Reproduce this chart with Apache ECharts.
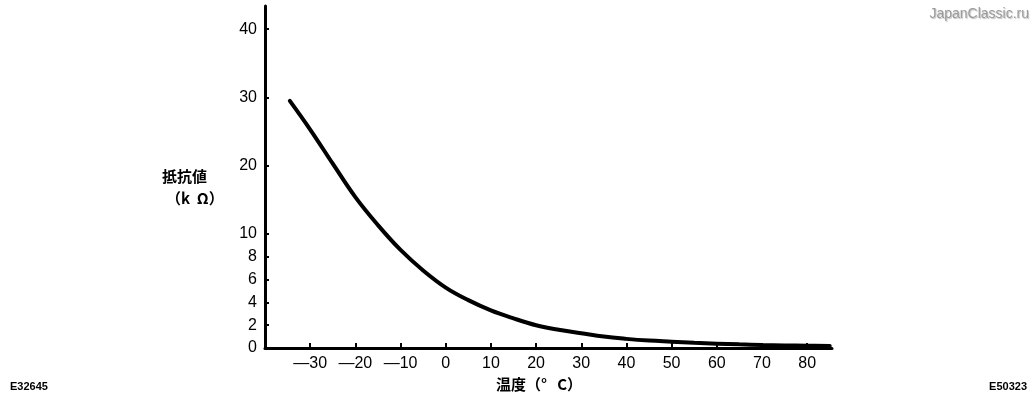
<!DOCTYPE html>
<html>
<head>
<meta charset="utf-8">
<script src="https://cdn.jsdelivr.net/npm/echarts@6/dist/echarts.min.js"></script>
<style>
  html, body { margin: 0; padding: 0; background: #fff; }
  #chart { width: 1033px; height: 397px; }
</style>
</head>
<body>
<div id="chart"></div>
<script>
// 温度 (°C) と抵抗値 (kΩ)
const temps = [-34.5, -30, -25, -20, -15, -10, -5, 0, 5, 10, 15, 20, 25, 30, 35, 40, 45, 50, 55, 60, 65, 70, 75, 80, 85];
const resist = [29.5, 25.3, 20.3, 15.4, 11.3, 8.6, 6.8, 5.3, 4.2, 3.3, 2.6, 2.0, 1.6, 1.3, 1.0, 0.8, 0.65, 0.55, 0.45, 0.38, 0.32, 0.27, 0.23, 0.2, 0.17];
const xTicks = [-30, -20, -10, 0, 10, 20, 30, 40, 50, 60, 70, 80];
const yTicks = [0, 2, 4, 6, 8, 10, 20, 30, 40];

// 縦軸は 0〜10 と 10〜40 で目盛り間隔が違う（上側を圧縮）
const SPLIT = 10;
const RATIO = 0.599;
function toAxis(v) {
  return v <= SPLIT ? v : SPLIT + (v - SPLIT) * RATIO;
}
function fromAxis(t) {
  return t <= SPLIT ? t : SPLIT + (t - SPLIT) / RATIO;
}

const lineData = temps.map((t, i) => [t, toAxis(resist[i])]);
const yTickPos = yTicks.map(toAxis);

const chart = echarts.init(document.getElementById('chart'));
const labelFont = 'Liberation Sans, Arial, sans-serif';
const cjkFont = '"Noto Sans CJK JP", sans-serif';

chart.setOption({
  animation: false,
  grid: { left: 265, right: 201, top: 6, bottom: 49 },
  xAxis: {
    type: 'value',
    min: -40,
    max: 85.5,
    splitLine: { show: false },
    axisLine: { onZero: false, lineStyle: { color: '#000', width: 3 } },
    axisTick: { inside: true, length: 5, customValues: xTicks, lineStyle: { color: '#000', width: 2 } },
    axisLabel: {
      customValues: xTicks,
      margin: 8,
      color: '#000',
      fontSize: 16,
      fontFamily: labelFont,
      formatter: v => (v < 0 ? '—' + Math.abs(v) : String(v))
    }
  },
  yAxis: {
    type: 'value',
    min: 0,
    max: 30,
    splitLine: { show: false },
    axisLine: { onZero: false, lineStyle: { color: '#000', width: 3 } },
    axisTick: { inside: true, length: 4, customValues: yTickPos, lineStyle: { color: '#000', width: 2 } },
    axisLabel: {
      customValues: yTickPos,
      margin: 8,
      color: '#000',
      fontSize: 16,
      fontFamily: labelFont,
      formatter: v => String(Math.round(fromAxis(v)))
    }
  },
  series: [{
    type: 'line',
    data: lineData,
    smooth: 0.4,
    showSymbol: false,
    lineStyle: { color: '#000', width: 4, cap: 'round' }
  }],
  graphic: [
    { type: 'text', left: 162, top: 169, style: { text: '抵抗値', font: 'bold 15px ' + cjkFont, fill: '#000' } },
    { type: 'text', left: 166, top: 191, style: { text: '（k  Ω）', font: 'bold 15px ' + cjkFont, fill: '#000' } },
    { type: 'text', left: 496, top: 377, style: { text: '温度（°   C）', font: 'bold 15px ' + cjkFont, fill: '#000' } },
    { type: 'text', right: 4, top: 7, style: { text: 'JapanClassic.ru', font: '14px ' + labelFont, fill: '#9a9a9a', textShadowColor: 'rgba(0,0,0,0.25)', textShadowBlur: 1, textShadowOffsetX: 1, textShadowOffsetY: 1 } },
    { type: 'text', left: 10, top: 381, style: { text: 'E32645', font: 'bold 11px ' + labelFont, fill: '#000' } },
    { type: 'text', right: 6, top: 381, style: { text: 'E50323', font: 'bold 11px ' + labelFont, fill: '#000' } }
  ]
});
</script>
</body>
</html>
